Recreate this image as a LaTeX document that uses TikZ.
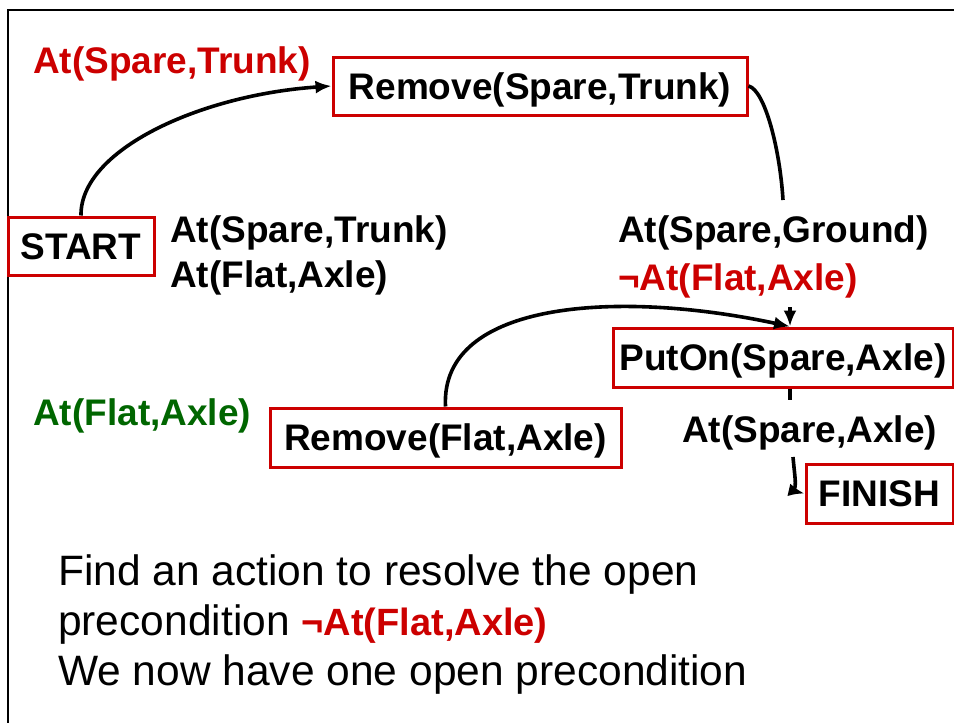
\documentclass[tikz,border=0pt]{standalone}
\usepackage{fontspec}
\setmainfont{Liberation Sans}
\usetikzlibrary{arrows.meta}
\definecolor{boxred}{RGB}{204,0,0}
\definecolor{lblgreen}{RGB}{0,102,0}
\tikzset{
  act/.style={draw=boxred, line width=3pt, inner sep=0pt, minimum height=58pt,
    text height=28pt, text depth=2pt, font=\bfseries\fontsize{37}{44}\selectfont},
  lit/.style={inner sep=0pt, anchor=base west, font=\bfseries\fontsize{37}{44}\selectfont},
  note/.style={inner sep=0pt, anchor=base west, font=\fontsize{42.5}{50}\selectfont},
  link/.style={line width=3.6pt},
  tip/.style={-{Latex[length=16pt,width=13pt]}},
}

\begin{document}
\begin{tikzpicture}[x=1pt,y=-1pt]
\useasboundingbox (0,0) rectangle (954,723);
\draw[line width=2.6pt] (8,723) -- (8,10) -- (954,10);

\node[lit,text=boxred] (sparetrunk) at (33,73) {At(Spare,Trunk)};
\node[act,minimum width=414pt] (remtrunk) at (540,86) {Remove(Spare,Trunk)};
\node[act,minimum width=146pt] (start) at (81,246) {START};
\node[lit] (eff1) at (170,242) {At(Spare,Trunk)};
\node[lit] (eff2) at (170,287) {At(Flat,Axle)};
\node[lit] (ground) at (618,242) {At(Spare,Ground)};
\node[lit,text=boxred] (negflat) at (618,290) {¬At(Flat,Axle)};
\node[act,minimum width=340pt,minimum height=59pt] (puton) at (783,357.5) {PutOn(Spare,Axle)};
\node[lit,text=lblgreen] (flataxle) at (33,425) {At(Flat,Axle)};
\node[act,minimum width=351pt,minimum height=59pt] (remflat) at (445.5,437.5) {Remove(Flat,Axle)};
\node[lit] (axle) at (682,442) {At(Spare,Axle)};
\node[act,minimum width=147pt,minimum height=59pt] (finish) at (879.5,493.5) {FINISH};

\node[note] (line1) at (58,585) {Find an action to resolve the open};
\node[note] (line2) at (58,635) {precondition \textcolor{boxred}{\bfseries\fontsize{38}{50}\selectfont ¬At(Flat,Axle)}};
\node[note] (line3) at (58,685) {We now have one open precondition};

\coordinate (gtop) at (783,200);
\coordinate (ptop) at (790,307);
\coordinate (pin) at (ptop |- puton.north);
\coordinate (pbot) at (790,400);
\coordinate (atail) at (793,457);

\draw[link,tip] (start.north) .. controls (80,150) and (200,95) .. (remtrunk.west);
\draw[link] (remtrunk.east) .. controls (765,90) and (780,150) .. (gtop);
\draw[link,tip] (ptop) -- (pin);
\draw[link,tip] (remflat.north) .. controls (440,300) and (620,290) .. (pin);
\draw[link] (ptop |- puton.south) -- (pbot);
\draw[link,tip] (atail) .. controls (795,480) and (798,492) .. (finish.west);
\end{tikzpicture}
\end{document}
